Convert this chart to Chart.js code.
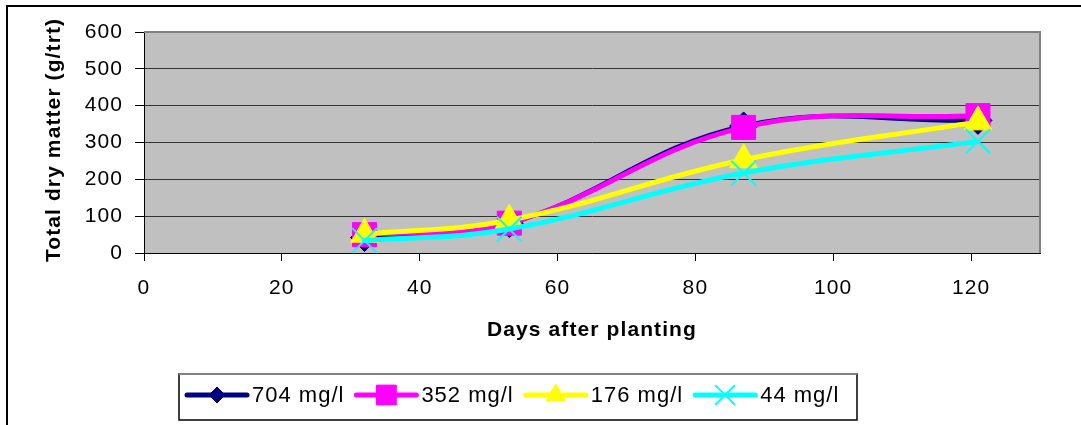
<!DOCTYPE html>
<html>
<head>
<meta charset="utf-8">
<script src="https://cdn.jsdelivr.net/npm/chart.js@4.4.1/dist/chart.umd.min.js"></script>
<style>
  html, body { margin: 0; padding: 0; background: #fff; }
  #wrap { width: 1081px; height: 425px; }
</style>
</head>
<body>
<div id="wrap"><canvas id="dryMatterChart" width="1081" height="425"></canvas></div>
<script>
// values
const days = [32, 53, 87, 121];
const series704 = [42, 80, 345, 360];
const series352 = [50, 81, 341, 373];
const series176 = [51, 89, 253, 356];
const series44 = [34, 65, 217, 303];
const seriesLabels = ["704 mg/l", "352 mg/l", "176 mg/l", "44 mg/l"];
const xTicks = [0, 20, 40, 60, 80, 100, 120];
const yTicks = [0, 100, 200, 300, 400, 500, 600];
const xTitle = "Days after planting";
const yTitle = "Total dry matter (g/trt)";

const fontFamily = "'Liberation Sans', Arial, sans-serif";
const spacing = "1.1px";

function toPoints(values) {
  return days.map(function (d, i) { return { x: d, y: values[i] }; });
}

// legend marker sizes are smaller than the plot ones
const legendRadius = [8, 14, 11, 14];

const chartFrame = {
  id: "chartFrame",
  beforeLayout(chart) {
    chart.ctx.letterSpacing = spacing;
  },
  beforeDraw(chart) {
    const ctx = chart.ctx;
    const a = chart.chartArea;
    ctx.letterSpacing = spacing;
    ctx.save();
    ctx.fillStyle = "#fff";
    ctx.fillRect(0, 0, chart.width, chart.height);
    ctx.strokeStyle = "#000";
    ctx.lineWidth = 2;
    ctx.strokeRect(7, 6, chart.width + 20, chart.height + 20);
    ctx.fillStyle = "#c0c0c0";
    ctx.fillRect(a.left, a.top, a.right - a.left, a.bottom - a.top);
    ctx.restore();
  },
  beforeDatasetsDraw(chart) {
    const ctx = chart.ctx;
    const a = chart.chartArea;
    ctx.save();
    ctx.strokeStyle = "#808080";
    ctx.lineWidth = 2;
    ctx.beginPath();
    ctx.moveTo(a.left, a.top);
    ctx.lineTo(a.right, a.top);
    ctx.lineTo(a.right, a.bottom);
    ctx.stroke();
    ctx.restore();
  },
  afterDraw(chart) {
    const ctx = chart.ctx;

    // rotated y title, longer than the axis so drawn here
    ctx.save();
    ctx.translate(60, 140);
    ctx.rotate(-Math.PI / 2);
    ctx.font = "bold 21px " + fontFamily;
    ctx.letterSpacing = spacing;
    ctx.textAlign = "center";
    ctx.textBaseline = "alphabetic";
    ctx.fillStyle = "#000";
    ctx.fillText(yTitle, 0, 0);
    ctx.restore();

    // legend box
    const box = { left: 179, top: 374, right: 857, bottom: 420 };
    ctx.save();
    ctx.strokeStyle = "#000";
    ctx.lineWidth = 1.5;
    ctx.strokeRect(box.left, box.top, box.right - box.left, box.bottom - box.top);
    ctx.strokeStyle = "#808080";
    ctx.lineWidth = 2;
    ctx.beginPath();
    ctx.moveTo(box.left, box.top);
    ctx.lineTo(box.right, box.top);
    ctx.stroke();

    ctx.font = "22px " + fontFamily;
    ctx.letterSpacing = "1px";
    ctx.textAlign = "left";
    ctx.textBaseline = "alphabetic";
    const lineY = 395;
    let x = 187;
    chart.data.datasets.forEach(function (ds, i) {
      ctx.strokeStyle = ds.borderColor;
      ctx.lineWidth = 5;
      ctx.lineCap = "round";
      ctx.beginPath();
      ctx.moveTo(x, lineY);
      ctx.lineTo(x + 60, lineY);
      ctx.stroke();

      ctx.fillStyle = ds.pointBackgroundColor;
      ctx.strokeStyle = ds.pointBorderColor;
      ctx.lineWidth = ds.pointBorderWidth;
      ctx.lineCap = "butt";
      Chart.helpers.drawPoint(ctx, {
        pointStyle: ds.pointStyle,
        radius: legendRadius[i],
        borderWidth: ds.pointBorderWidth,
        rotation: 0
      }, x + 30, lineY);

      ctx.fillStyle = "#000";
      ctx.fillText(ds.label, x + 65, 401.5);
      x = x + 65 + ctx.measureText(ds.label).width + 12;
    });
    ctx.restore();
  }
};

const ctx = document.getElementById("dryMatterChart");

new Chart(ctx, {
  type: "line",
  data: {
    datasets: [
      {
        label: seriesLabels[0],
        data: toPoints(series704),
        borderColor: "#000080",
        backgroundColor: "#000080",
        borderWidth: 4.5,
        pointStyle: "rectRot",
        pointRadius: 14,
        pointBorderWidth: 1,
        pointBackgroundColor: "#000080",
        pointBorderColor: "#000080",
        order: 4,
      },
      {
        label: seriesLabels[1],
        data: toPoints(series352),
        borderColor: "#ff00ff",
        backgroundColor: "#ff00ff",
        borderWidth: 5,
        pointStyle: "rect",
        pointRadius: 17,
        pointBorderWidth: 1,
        pointBackgroundColor: "#ff00ff",
        pointBorderColor: "#ff00ff",
        order: 3,
      },
      {
        label: seriesLabels[2],
        data: toPoints(series176),
        borderColor: "#ffff00",
        backgroundColor: "#ffff00",
        borderWidth: 5,
        pointStyle: "triangle",
        pointRadius: 16,
        pointBorderWidth: 1,
        pointBackgroundColor: "#ffff00",
        pointBorderColor: "#ffff00",
        order: 2,
      },
      {
        label: seriesLabels[3],
        data: toPoints(series44),
        borderColor: "#00ffff",
        backgroundColor: "#00ffff",
        borderWidth: 5,
        pointStyle: "crossRot",
        pointRadius: 17.5,
        pointBorderWidth: 2,
        pointBackgroundColor: "#00ffff",
        pointBorderColor: "#00ffff",
        order: 1,
      },
    ],
  },
  options: {
    responsive: false,
    animation: false,
    devicePixelRatio: 1,
    layout: { padding: { left: 0, top: 32, right: 41, bottom: 82 } },
    elements: {
      line: { tension: 0.4, borderCapStyle: "round", borderJoinStyle: "round", fill: false },
    },
    scales: {
      x: {
        type: "linear",
        min: 0,
        max: 130,
        afterBuildTicks: function (axis) {
          axis.ticks = xTicks.map(function (v) { return { value: v }; });
        },
        afterFit: function (axis) { axis.height = 90; },
        grid: { drawOnChartArea: false, tickLength: 8, color: "#000" },
        border: { color: "#000", width: 1 },
        ticks: {
          color: "#000",
          padding: 15,
          maxRotation: 0,
          autoSkip: false,
          font: { family: fontFamily, size: 21 },
        },
        title: {
          display: true,
          text: xTitle,
          color: "#000",
          font: { family: fontFamily, size: 21, weight: "bold" },
          padding: { top: 0, bottom: 0 },
        },
      },
      y: {
        type: "linear",
        min: 0,
        max: 600,
        afterBuildTicks: function (axis) {
          axis.ticks = yTicks.map(function (v) { return { value: v }; });
        },
        afterFit: function (axis) { axis.width = 144; },
        grid: {
          color: function (c) {
            return c.tick && c.tick.value === 600 ? "rgba(0,0,0,0)" : "#333";
          },
          tickColor: "#000",
          tickLength: 9,
          lineWidth: 1,
        },
        border: { color: "#000", width: 1 },
        ticks: {
          color: "#000",
          padding: 12,
          font: { family: fontFamily, size: 21 },
        },
      },
    },
    plugins: {
      legend: { display: false },
      tooltip: { enabled: false },
    },
  },
  plugins: [chartFrame],
});
</script>
</body>
</html>
